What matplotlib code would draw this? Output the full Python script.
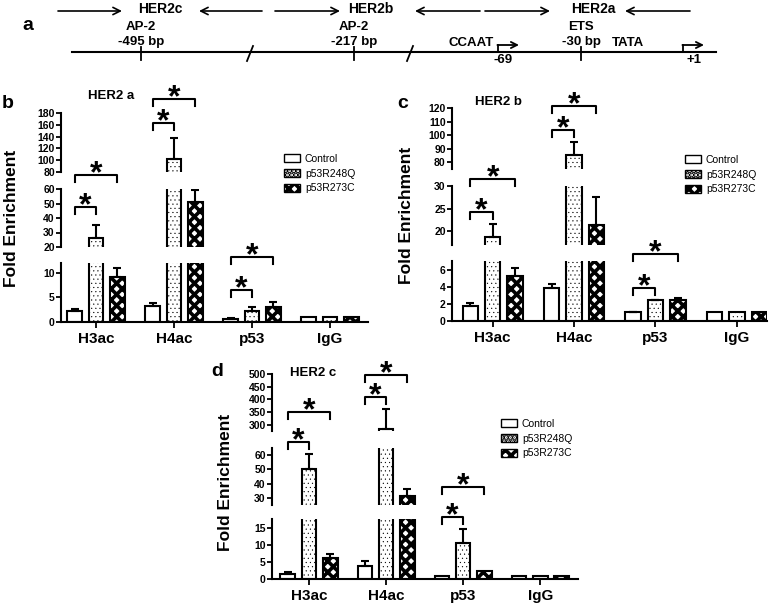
import numpy as np
import matplotlib.pyplot as plt
from matplotlib.patches import Patch
from matplotlib.transforms import blended_transform_factory

plt.rcParams['font.family'] = ['Liberation Sans', 'DejaVu Sans']
plt.rcParams['font.weight'] = 'bold'

W, H = 778, 605

groups = ['H3ac', 'H4ac', 'p53', 'IgG']
series = ['Control', 'p53R248Q', 'p53R273C']

# panel b : HER2 a
b_control = [2.3, 3.2, 0.6, 1.0]
b_control_err = [0.3, 0.7, 0.2, 0.0]
b_r248q = [26, 102, 2.3, 1.0]
b_r248q_err = [9, 35, 0.8, 0.0]
b_r273c = [9.2, 51, 3.1, 1.0]
b_r273c_err = [1.8, 8, 1.0, 0.0]

# panel c : HER2 b
c_control = [1.8, 3.8, 1.0, 1.0]
c_control_err = [0.3, 0.5, 0.1, 0.0]
c_r248q = [18.8, 85, 2.4, 1.0]
c_r248q_err = [2.9, 10, 0.1, 0.0]
c_r273c = [5.3, 21.3, 2.5, 1.0]
c_r273c_err = [0.9, 6.2, 0.2, 0.0]

# panel d : HER2 c
d_control = [1.6, 3.8, 0.9, 1.0]
d_control_err = [0.4, 1.4, 0.0, 0.0]
d_r248q = [50, 284, 10.6, 1.0]
d_r248q_err = [11, 79, 4.1, 0.0]
d_r273c = [6.2, 31.4, 2.3, 1.0]
d_r273c_err = [1.1, 4.6, 0.0, 0.0]

# broken y axis segments (bottom, middle, top) and their ticks
b_segments = [(0, 12), (20, 60), (80, 180)]
b_ticks = [[0, 5, 10], [20, 30, 40, 50, 60], [80, 100, 120, 140, 160, 180]]
c_segments = [(0, 7), (17, 30), (75, 120)]
c_ticks = [[0, 2, 4, 6], [20, 25, 30], [80, 90, 100, 110, 120]]
d_segments = [(0, 17.5), (25, 65), (275, 500)]
d_ticks = [[0, 5, 10, 15], [30, 40, 50, 60], [300, 350, 400, 450, 500]]

# significance brackets: (group, from series, to series)
sig_pairs = [(0, 0, 1), (0, 0, 2), (1, 0, 1), (1, 0, 2), (2, 0, 1), (2, 0, 2)]

# promoter diagram labels
site_labels = ['AP-2\n-495 bp', 'AP-2\n-217 bp', 'ETS\n-30 bp']
amplicons = ['HER2c', 'HER2b', 'HER2a']

fig = plt.figure(figsize=(W / 100, H / 100), dpi=100)


def fx(px):
    return px / W


def fy(py):
    return 1 - py / H


# ---------------- panel a (schematic) ----------------
ax0 = fig.add_axes([0, 0, 1, 1])
ax0.set_xlim(0, W)
ax0.set_ylim(H, 0)
ax0.axis('off')

ax0.plot([72, 716], [52, 52], color='black', lw=1.5)
for x, lab in zip([141, 354, 581], site_labels):
    ax0.plot([x, x], [47, 60], color='black', lw=1.3)
    top, bot = lab.split('\n')
    ax0.text(x, 27, top, ha='center', va='center', fontsize=9.5)
    ax0.text(x, 42, bot, ha='center', va='center', fontsize=9.5)
for x in [250, 410]:
    ax0.plot([x - 3, x + 3], [61, 46], color='black', lw=1.3)

ax0.text(471, 43, 'CCAAT', ha='center', va='center', fontsize=9.5)
ax0.text(628, 43, 'TATA', ha='center', va='center', fontsize=9.5)
ax0.text(503, 60, '-69', ha='center', va='center', fontsize=9.5)
ax0.text(694, 60, '+1', ha='center', va='center', fontsize=9.5)
for x0, x1 in [(498, 519), (683, 704)]:
    ax0.plot([x0, x0], [52, 45], color='black', lw=1.3)
    ax0.annotate('', xy=(x1, 45), xytext=(x0 - 0.6, 45),
                 arrowprops=dict(arrowstyle='->', lw=1.3, color='black',
                                 mutation_scale=11, shrinkA=0, shrinkB=0))

arrow_spans = [(58, 122), (262, 199), (275, 340), (480, 415), (485, 550), (690, 625)]
for x0, x1 in arrow_spans:
    ax0.annotate('', xy=(x1, 11), xytext=(x0, 11),
                 arrowprops=dict(arrowstyle='->', lw=1.2, color='black',
                                 mutation_scale=13, shrinkA=0, shrinkB=0))
for x, lab in zip([160, 371, 593], amplicons):
    ax0.text(x, 9, lab, ha='center', va='center', fontsize=10)

for x, y, lab in [(28, 25, 'a'), (8, 103, 'b'), (403, 103, 'c'), (217, 372, 'd')]:
    ax0.text(x, y, lab, ha='center', va='center', fontsize=14)

# ---------------- bar panels ----------------
styles = [
    dict(facecolor='white', hatch=None, hlw=1.0),
    dict(facecolor='white', hatch='....', hlw=0.3),
    dict(facecolor='white', hatch='xxx', hlw=2.6),
]


def make_bars(ax, xs, vals, style, width):
    plt.rcParams['hatch.linewidth'] = style['hlw']
    bars = ax.bar(xs, vals, width, facecolor=style['facecolor'], edgecolor='black',
                  linewidth=1.5, hatch=style['hatch'], zorder=2)
    for p in bars:
        if hasattr(p, 'set_hatch_linewidth'):
            p.set_hatch_linewidth(style['hlw'])
    return bars


def draw_panel(left, right, seg_px, segments, ticks, xlim, vals, errs,
               bracket_px, title, title_xy, ylabel_xy, legend_xy):
    axes = []
    width = 0.19
    offs = [-0.275, 0.0, 0.275]
    gx = np.arange(len(groups))
    for k, ((y_top, y_bot), (lo, hi)) in enumerate(zip(seg_px, segments)):
        ax = fig.add_axes([fx(left), fy(y_bot), fx(right - left), (y_bot - y_top) / H])
        ax.patch.set_alpha(0)
        for s in range(3):
            make_bars(ax, gx + offs[s], vals[s], styles[s], width)
            e = np.array(errs[s])
            m = e > 0
            ax.errorbar((gx + offs[s])[m], np.array(vals[s])[m],
                        yerr=[np.zeros(m.sum()), e[m]], fmt='none', ecolor='black',
                        elinewidth=1.5, capsize=3, capthick=1.5, zorder=3)
        ax.set_ylim(lo, hi)
        ax.set_xlim(*xlim)
        ax.set_yticks(ticks[k])
        ax.tick_params(axis='y', direction='out', length=3.5, width=1.3, pad=1,
                       labelsize=7.5)
        for side in ['top', 'right']:
            ax.spines[side].set_visible(False)
        ax.spines['left'].set_linewidth(1.5)
        if k == 0:
            ax.spines['bottom'].set_linewidth(1.5)
            ax.set_xticks(gx)
            ax.set_xticklabels(groups, fontsize=11)
            ax.tick_params(axis='x', direction='out', length=4, width=1.3, pad=3)
        else:
            ax.spines['bottom'].set_visible(False)
            ax.set_xticks([])
        axes.append(ax)

    base = axes[0]
    tr = blended_transform_factory(base.transData, fig.transFigure)
    for (g, i, j), ypx in zip(sig_pairs, bracket_px):
        x0 = g + offs[i]
        x1 = g + offs[j]
        base.plot([x0, x0, x1, x1], [fy(ypx + 7), fy(ypx), fy(ypx), fy(ypx + 7)],
                  color='black', lw=1.5, transform=tr, clip_on=False)
        base.text((x0 + x1) / 2, fy(ypx - 1), '*', ha='center', va='center',
                  fontsize=23, transform=tr, clip_on=False)

    fig.text(fx(title_xy[0]), fy(title_xy[1]), title, ha='left', va='center', fontsize=9.5)
    fig.text(fx(ylabel_xy[0]), fy(ylabel_xy[1]), 'Fold Enrichment', rotation=90,
             ha='center', va='center', fontsize=12.5)
    handles = [Patch(facecolor='white', edgecolor='black', hatch=st['hatch'], linewidth=1.0)
               for st in styles]
    fig.legend(handles, series, loc='upper left',
               bbox_to_anchor=(fx(legend_xy[0]), fy(legend_xy[1])),
               frameon=False, prop=dict(size=7.5, weight='normal'),
               handlelength=1.5, handleheight=0.8, handletextpad=0.5,
               labelspacing=0.45, borderpad=0, borderaxespad=0)
    return axes


plt.rcParams['hatch.linewidth'] = 1.0
draw_panel(61, 368, [(263, 322), (189, 247), (113, 172)], b_segments, b_ticks,
           (-0.449, 3.487),
           [b_control, b_r248q, b_r273c], [b_control_err, b_r248q_err, b_r273c_err],
           [207, 175, 123, 99, 290, 257], 'HER2 a', (88, 96), (12, 218), (284, 154))

draw_panel(452, 767, [(261, 321), (186, 245), (108, 169)], c_segments, c_ticks,
           (-0.50, 3.37),
           [c_control, c_r248q, c_r273c], [c_control_err, c_r248q_err, c_r273c_err],
           [212, 179, 130, 106, 288, 254], 'HER2 b', (475, 102), (406, 215), (685, 155))

draw_panel(272, 578, [(519, 579), (448, 505), (374, 431)], d_segments, d_ticks,
           (-0.48, 3.49),
           [d_control, d_r248q, d_r273c], [d_control_err, d_r248q_err, d_r273c_err],
           [442, 412, 397, 375, 517, 487], 'HER2 c', (290, 373), (226, 482), (501, 419))

fig.savefig('out.png', dpi=100)
